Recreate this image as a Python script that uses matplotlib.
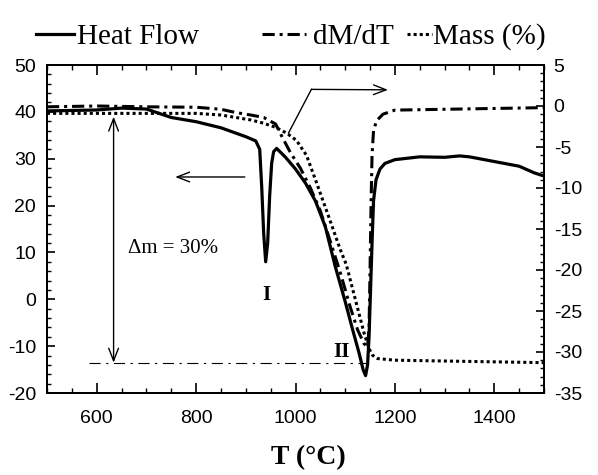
# -*- coding: utf-8 -*-
# DSC / TGA curves: heat flow (left axis), dM/dT and mass change (right axis)

import matplotlib
matplotlib.use('Agg')
import matplotlib.pyplot as plt
from matplotlib.ticker import MultipleLocator

plt.rcParams['axes.unicode_minus'] = False

# heat flow (left axis)
T_hf = [500, 550, 600, 650, 700, 750, 800, 850, 900, 920, 928, 932, 936, 940,
        944, 948, 952, 956, 962, 980, 1000, 1020, 1040, 1060, 1080, 1100, 1115,
        1128, 1136, 1141, 1145, 1148, 1151, 1154, 1157, 1162, 1170, 1180, 1200,
        1250, 1300, 1330, 1350, 1400, 1450, 1480, 1500]
heat_flow = [40.2, 40.3, 40.4, 40.8, 40.6, 38.8, 37.9, 36.6, 34.7, 33.8, 32.0,
             24.0, 14.0, 8.0, 12.0, 22.0, 29.0, 31.5, 32.2, 30.3, 27.8, 24.8,
             21.0, 15.5, 7.0, -0.5, -6.5, -11.5, -15.0, -16.3, -14.0, -8.0, 2.0,
             12.0, 21.0, 25.5, 27.8, 29.0, 29.8, 30.4, 30.3, 30.6, 30.4, 29.4,
             28.4, 27.0, 26.3]

# dM/dT (right axis)
T_dmdt = [500, 600, 700, 800, 850, 880, 910, 936, 960, 975, 990, 1010, 1030,
          1050, 1070, 1090, 1110, 1125, 1138, 1145, 1148, 1150, 1152, 1154,
          1157, 1163, 1176, 1200, 1300, 1400, 1500]
dmdt = [-0.1, 0.0, -0.1, -0.15, -0.4, -0.8, -1.1, -1.4, -2.2, -4.0, -5.7, -7.6,
        -10.0, -12.8, -16.5, -20.3, -24.5, -27.3, -29.0, -29.3, -27.0, -20.0,
        -12.0, -6.0, -3.0, -1.8, -1.0, -0.5, -0.4, -0.3, -0.2]

# mass change % (right axis)
T_mass = [500, 600, 700, 800, 850, 880, 910, 936, 960, 982, 1002, 1022, 1042,
          1068, 1090, 1102, 1120, 1138, 1148, 1155, 1165, 1200, 1300, 1400, 1500]
mass = [-0.9, -0.9, -0.9, -0.9, -1.1, -1.4, -1.7, -2.1, -2.6, -3.3, -4.2, -6.0,
        -9.3, -13.7, -17.5, -19.3, -23.5, -27.7, -29.6, -30.4, -30.8, -31.0,
        -31.1, -31.2, -31.3]

mass_start = -0.9
mass_end = -31.3
ref_line_T = [585, 1145]
dm_arrow_T = 634

x_ticks = [600, 800, 1000, 1200, 1400]
left_ticks = [-20, -10, 0, 10, 20, 30, 40, 50]
right_ticks = [-35, -30, -25, -20, -15, -10, -5, 0, 5]

serif = 'Liberation Serif'
sans = 'Liberation Sans'

fig = plt.figure(figsize=(5.98, 4.75), dpi=100)
ax = fig.add_axes([47 / 598, 1 - 393 / 475, 497 / 598, 328 / 475])
ax2 = ax.twinx()

hf_line, = ax.plot(T_hf, heat_flow, color='black', lw=2.3, solid_joinstyle='round')
dm_line, = ax2.plot(T_dmdt, dmdt, color='black', lw=2.2, linestyle=(0, (4, 1.6, 1, 1.6)))
ms_line, = ax2.plot(T_mass, mass, color='black', lw=2.2, linestyle=(0, (1, 1)))

# thin reference line at final mass level
ax2.plot(ref_line_T, [mass_end, mass_end], color='black', lw=0.8,
         linestyle=(0, (10, 5, 2, 5)))

# delta m arrow
ax2.annotate('', xy=(dm_arrow_T, mass_end), xytext=(dm_arrow_T, mass_start - 0.4),
             arrowprops=dict(arrowstyle='<->, head_length=0.9, head_width=0.35',
                             lw=1.0, color='black', shrinkA=0, shrinkB=0))
ax.text(662, 10.8, '\u0394m = 30%', fontsize=15, family=serif, ha='left', va='center')

# peak labels
ax.text(942, 1.0, 'I', fontsize=15, family=serif, weight='bold', ha='center', va='center')
ax.text(1092, -11.2, 'II', fontsize=15, family=serif, weight='bold', ha='center', va='center')

# arrow pointing to left axis
ax.annotate('', xy=(758, 26.1), xytext=(898, 26.1),
            arrowprops=dict(arrowstyle='->, head_length=0.9, head_width=0.35',
                            lw=1.0, color='black', shrinkA=0, shrinkB=0))
# bent arrow pointing to right axis
ax.plot([986, 1032], [35.5, 44.8], color='black', lw=1.0)
ax.annotate('', xy=(1186, 44.7), xytext=(1032, 44.8),
            arrowprops=dict(arrowstyle='->, head_length=0.9, head_width=0.35',
                            lw=1.0, color='black', shrinkA=0, shrinkB=0))

# axes
ax.set_xlim(500, 1500)
ax.set_ylim(-20, 50)
ax2.set_ylim(-35, 5)
ax.set_xticks(x_ticks)
ax.set_yticks(left_ticks)
ax2.set_yticks(right_ticks)
ax.xaxis.set_minor_locator(MultipleLocator(50))
ax.yaxis.set_minor_locator(MultipleLocator(2))
ax2.yaxis.set_minor_locator(MultipleLocator(1))

ax.tick_params(axis='x', which='both', direction='in', top=True, labelsize=14, pad=12)
ax.tick_params(axis='x', which='major', length=7, width=1.2)
ax.tick_params(axis='x', which='minor', length=3.5, width=1.0)
ax.tick_params(axis='y', which='both', direction='in', labelsize=14, pad=8)
ax.tick_params(axis='y', which='major', length=6, width=1.2)
ax.tick_params(axis='y', which='minor', length=3, width=1.0)
ax2.tick_params(axis='y', which='both', direction='in', labelsize=14, pad=7)
ax2.tick_params(axis='y', which='major', length=6, width=1.2)
ax2.tick_params(axis='y', which='minor', length=3, width=1.0)
for a in (ax, ax2):
    for lab in a.get_xticklabels() + a.get_yticklabels():
        lab.set_family(sans)
    for sp in a.spines.values():
        sp.set_linewidth(1.4)

ax.set_xlabel('T (\u00b0C)', fontsize=20, family=serif, weight='bold', labelpad=4)
ax.xaxis.set_label_coords(0.525, -0.16)

# legend entries along the top
legend_items = [(hf_line, 'Heat Flow', 36, 1.3, 0.1),
                (dm_line, 'dM/dT', 262, 1.5, 0.25),
                (ms_line, 'Mass (%)', 407, 0.85, 0.05)]
for handle, label, x0, hlen, hpad in legend_items:
    fig.legend(handles=[handle], labels=[label], loc='center left',
               bbox_to_anchor=(x0 / 598, 1 - 37 / 475), frameon=False,
               borderpad=0, borderaxespad=0, handlelength=hlen,
               handletextpad=hpad, prop={'family': serif, 'size': 21})

fig.savefig('out.png', dpi=100)
